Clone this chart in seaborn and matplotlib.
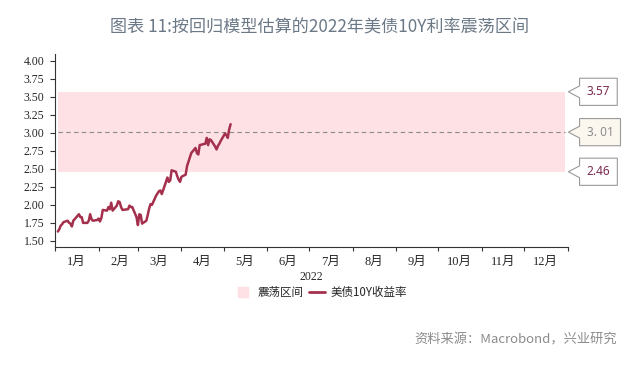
import pandas as pd
import numpy as np

import matplotlib.pyplot as plt
import matplotlib.dates as mdates
from matplotlib.path import Path
from matplotlib.lines import Line2D
import seaborn as sns

# US 10Y yield, daily, 2022-01-03 .. 2022-05-06
jan = ['2022-01-%02d' % d for d in [3, 4, 5, 6, 7, 10, 11, 12, 13, 14, 18, 19, 20, 21, 24, 25, 26, 27, 28, 31]]
feb = ['2022-02-%02d' % d for d in [1, 2, 3, 4, 7, 8, 9, 10, 11, 14, 15, 16, 17, 18, 22, 23, 24, 25, 28]]
mar = ['2022-03-%02d' % d for d in [1, 2, 3, 4, 7, 8, 9, 10, 11, 14, 15, 16, 17, 18, 21, 22, 23, 24, 25, 28, 29, 30, 31]]
apr = ['2022-04-%02d' % d for d in [1, 4, 5, 6, 7, 8, 11, 12, 13, 14, 18, 19, 20, 21, 22, 25, 26, 27, 28, 29]]
may = ['2022-05-%02d' % d for d in [2, 3, 4, 5, 6]]
dates = jan + feb + mar + apr + may

yields = [1.63, 1.66, 1.71, 1.73, 1.76, 1.78, 1.75, 1.74, 1.70, 1.78, 1.87, 1.83, 1.83, 1.75, 1.75, 1.78, 1.87, 1.80, 1.78, 1.79,
          1.81, 1.77, 1.82, 1.93, 1.92, 1.97, 1.94, 2.03, 1.92, 1.99, 2.05, 2.04, 1.97, 1.93, 1.94, 1.99, 1.97, 1.97, 1.83,
          1.72, 1.87, 1.86, 1.74, 1.78, 1.86, 1.95, 2.01, 2.00, 2.13, 2.16, 2.19, 2.20, 2.15, 2.32, 2.38, 2.32, 2.34, 2.48, 2.46, 2.40, 2.35, 2.32,
          2.39, 2.42, 2.54, 2.60, 2.66, 2.72, 2.79, 2.72, 2.70, 2.83, 2.85, 2.93, 2.83, 2.91, 2.90, 2.81, 2.77, 2.82, 2.85, 2.89,
          2.99, 2.97, 2.93, 3.05, 3.12]

# range from regression model
band_low = 2.46
band_mid = 3.01
band_high = 3.57
band_start = '2022-01-03'
band_end = '2022-12-30'

callout_values = [band_high, band_mid, band_low]
callout_labels = ['3.57', '3. 01', '2.46']

month_labels = ['%d月' % m for m in range(1, 13)]
yticks = [1.50, 1.75, 2.00, 2.25, 2.50, 2.75, 3.00, 3.25, 3.50, 3.75, 4.00]

title = '图表 11:按回归模型估算的2022年美债10Y利率震荡区间'
source = '资料来源：Macrobond，兴业研究'

line_color = '#a5304d'
band_color = '#fde1e5'

sns.set_style('white')
plt.rcParams['font.family'] = ['Liberation Serif', 'Noto Sans CJK SC']

df = pd.DataFrame({'date': pd.to_datetime(dates), 'yield': yields})

fig = plt.figure(figsize=(6.4, 3.69), dpi=100)
ax = fig.add_axes([0.086, 0.331, 0.801, 0.523])

# oscillation band + midline
b0, b1 = pd.Timestamp(band_start), pd.Timestamp(band_end)
ax.fill_between([b0, b1], band_low, band_high, color=band_color, lw=0, zorder=1)
ax.hlines(band_mid, b0, b1, colors='#8a8a8a', linestyles=(0, (4, 3)), lw=0.8, zorder=2)

sns.lineplot(data=df, x='date', y='yield', color=line_color, lw=1.8, ax=ax, zorder=3)

ax.set_xlim(pd.Timestamp('2022-01-01'), pd.Timestamp('2023-01-01'))
ax.set_ylim(1.417, 4.097)
ax.set_yticks(yticks)
ax.set_yticklabels(['%.2f' % v for v in yticks], fontsize=8.5, family='Liberation Serif')

# month boundaries as ticks, labels in the middle
ax.xaxis.set_major_locator(mdates.MonthLocator(bymonthday=1))
ax.xaxis.set_major_formatter(plt.NullFormatter())
ax.xaxis.set_minor_locator(mdates.MonthLocator(bymonthday=16))
ax.xaxis.set_minor_formatter(plt.FixedFormatter(month_labels))
for lab in ax.xaxis.get_minorticklabels():
    lab.set_fontsize(9)
    lab.set_family(['Liberation Serif', 'Noto Sans CJK SC'])

ax.tick_params(axis='x', which='major', direction='out', length=3, width=0.8, color='#333333', bottom=True)
ax.tick_params(axis='x', which='minor', length=0, pad=6.5, bottom=True)
ax.tick_params(axis='y', direction='out', length=3.6, width=0.8, color='#333333', pad=4, left=True)

ax.set_xlabel('2022', fontsize=8.5, family='Liberation Serif', labelpad=2)
ax.set_ylabel('')

for s in ['top', 'right']:
    ax.spines[s].set_visible(False)
for s in ['left', 'bottom']:
    ax.spines[s].set_color('#333333')
    ax.spines[s].set_linewidth(0.8)


# callout box with small notch on the left
def callout_box(x0, y0, width, height, mutation_size):
    pad = mutation_size * 0.6
    x0, y0 = x0 - pad, y0 - pad
    x1, y1 = x0 + width + 2 * pad, y0 + height + 2 * pad
    ym = (y0 + y1) / 2
    nh = mutation_size * 0.5
    nd = mutation_size * 0.95
    return Path([(x0, y0), (x1, y0), (x1, y1), (x0, y1), (x0, ym + nh),
                 (x0 - nd, ym), (x0, ym - nh), (x0, y0), (x0, y0)], closed=True)


trans = ax.get_yaxis_transform()
for v, lab in zip(callout_values, callout_labels):
    if lab.startswith('3. '):
        tc, fc = '#8c8c8c', '#fbf7ef'
    else:
        tc, fc = '#7b2c50', 'white'
    ax.text(1.037, v, lab, transform=trans, ha='left', va='center', fontsize=8.5,
            family='Noto Sans', color=tc, clip_on=False,
            bbox=dict(boxstyle=callout_box, fc=fc, ec='#9a9a9a', lw=0.8))

handles = [Line2D([], [], marker='s', ls='', color=band_color, markersize=7),
           Line2D([], [], color=line_color, lw=2)]
fig.legend(handles, ['震荡区间', '美债10Y收益率'], loc='center', bbox_to_anchor=(0.502, 0.207),
           ncol=2, frameon=False, handlelength=1.4, handletextpad=0.5, columnspacing=0.5,
           prop={'family': ['Noto Sans CJK SC'], 'size': 8.3}, borderpad=0.2)

fig.text(0.5, 0.926, title, ha='center', va='center', fontsize=12.3, color='#6b7886',
         family=['Noto Sans CJK SC'])
fig.text(0.964, 0.079, source, ha='right', va='center', fontsize=9.5, color='#8c8c8c',
         family=['Noto Sans CJK SC'])

fig.savefig('out.png', dpi=100)
